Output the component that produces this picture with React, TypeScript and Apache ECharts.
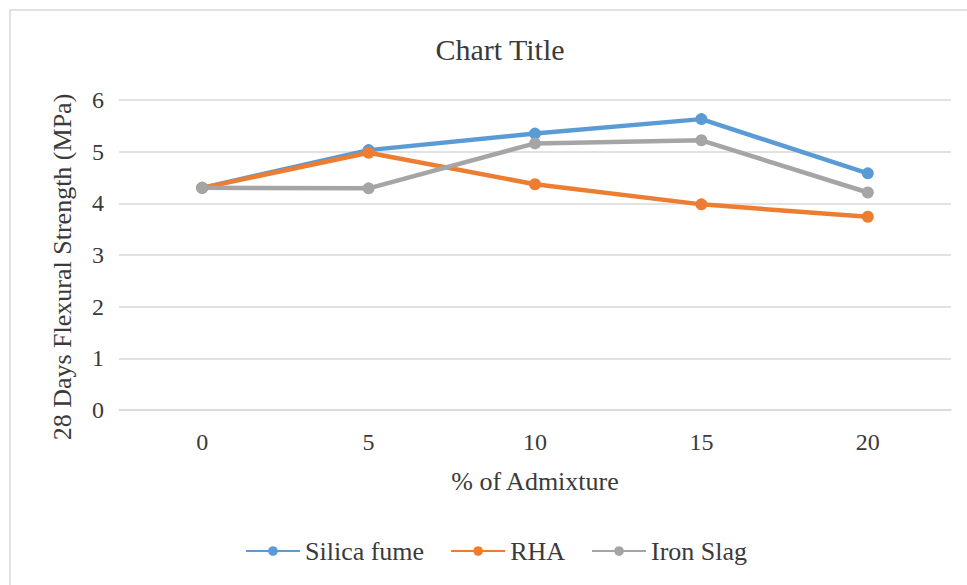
import React, { useEffect, useRef } from "react";
import * as echarts from "echarts";

// Flexural strength at 28 days versus admixture percentage
const admixturePercent = ["0", "5", "10", "15", "20"];
const silicaFume = [4.3, 5.03, 5.35, 5.63, 4.58];
const rha = [4.3, 4.98, 4.37, 3.98, 3.74];
const ironSlag = [4.3, 4.29, 5.16, 5.22, 4.21];

const FONT = "Liberation Serif";
const TEXT = "#3a3a3a";
const TICK_SIZE = 24;
const NAME_SIZE = 26;

export default function App() {
  const ref = useRef<HTMLDivElement>(null);

  useEffect(() => {
    if (!ref.current) return;
    const chart = echarts.init(ref.current, null, { renderer: "svg" });

    const mkSeries = (name: string, data: number[], color: string) => ({
      name,
      type: "line",
      data,
      symbol: "circle",
      symbolSize: 12,
      itemStyle: { color },
      lineStyle: { color, width: 4.5 },
      emphasis: { disabled: true },
    });

    const tickText = { fontFamily: FONT, fontSize: TICK_SIZE, color: TEXT };
    const nameText = { fontFamily: FONT, fontSize: NAME_SIZE, color: TEXT };

    chart.setOption({
      animation: false,
      backgroundColor: "#ffffff",
      textStyle: { fontFamily: FONT },
      graphic: [
        {
          type: "rect",
          shape: { x: 10, y: 10, width: 990, height: 600 },
          style: { fill: "none", stroke: "#d9d9d9", lineWidth: 1.5 },
          silent: true,
        },
      ],
      title: {
        text: "Chart Title",
        left: 495,
        textAlign: "center",
        top: 29,
        textStyle: { fontFamily: FONT, fontSize: 30, fontWeight: "normal", color: TEXT },
      },
      legend: {
        left: 240,
        top: 533,
        itemWidth: 54,
        itemHeight: 12,
        itemGap: 26,
        textStyle: { ...nameText },
        data: ["Silica fume", "RHA", "Iron Slag"],
      },
      grid: { left: 119, right: 16, top: 100, bottom: 175, containLabel: false },
      xAxis: {
        type: "category",
        data: admixturePercent,
        boundaryGap: true,
        name: "% of Admixture",
        nameLocation: "middle",
        nameGap: 58,
        nameTextStyle: { ...nameText },
        axisLine: { show: true, lineStyle: { color: "#d9d9d9", width: 1.5 } },
        axisTick: { show: false },
        axisLabel: { ...tickText, margin: 20 },
      },
      yAxis: {
        type: "value",
        min: 0,
        max: 6,
        interval: 1,
        name: "28 Days Flexural Strength (MPa)",
        nameLocation: "middle",
        nameGap: 44,
        nameTextStyle: { ...nameText, padding: [0, 24, 0, 0] },
        axisLine: { show: false },
        axisTick: { show: false },
        axisLabel: { ...tickText, margin: 15 },
        splitLine: { lineStyle: { color: "#d9d9d9", width: 1.5 } },
      },
      series: [
        mkSeries("Silica fume", silicaFume, "#5b9bd5"),
        mkSeries("RHA", rha, "#ed7d31"),
        mkSeries("Iron Slag", ironSlag, "#a5a5a5"),
      ],
    });

    return () => chart.dispose();
  }, []);

  return (
    <div
      ref={ref}
      style={{ position: "fixed", left: 0, top: 0, width: 967, height: 585, background: "#fff" }}
    />
  );
}
